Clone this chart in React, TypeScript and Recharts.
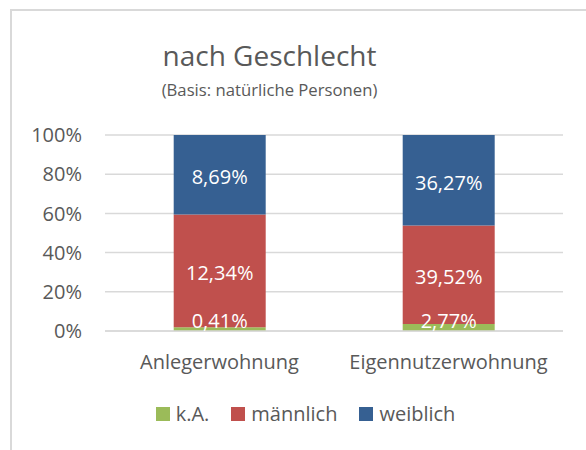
import React from 'react';
import { BarChart, Bar, XAxis, YAxis, CartesianGrid, LabelList, Legend } from 'recharts';

const categories = ['Anlegerwohnung', 'Eigennutzerwohnung'];
const kaValues = [0.41, 2.77];
const maleValues = [12.34, 39.52];
const femaleValues = [8.69, 36.27];
const yTicks = [0, 0.2, 0.4, 0.6, 0.8, 1];
const seriesNames = ['k.A.', 'männlich', 'weiblich'];
const seriesColors = ['#9BBB59', '#C0504D', '#366092'];

const data = categories.map((c, i) => ({ name: c, ka: kaValues[i], m: maleValues[i], w: femaleValues[i] }));

const FONT = '"Open Sans", sans-serif';
const GRAY = '#595959';

const fmt = (v: number) => v.toFixed(2).replace('.', ',') + '%';

const makeLabel = (values: number[]) => (props: any) => {
  const { x, y, width, height, index } = props;
  const cx = Number(x) + Number(width) / 2;
  let cy = Number(y) + Number(height) / 2 + 2;
  const bottom = Number(y) + Number(height);
  if (cy > bottom - 11) cy = bottom - 11;
  return (
    <text x={cx} y={cy} fill="#FFFFFF" textAnchor="middle" dominantBaseline="central"
      style={{ fontFamily: FONT, fontSize: 20 }}>
      {fmt(values[index])}
    </text>
  );
};

const LegendContent = () => (
  <div style={{ display: 'flex', justifyContent: 'center', alignItems: 'center', fontFamily: FONT, fontSize: 20, color: GRAY, lineHeight: '28px', height: 28 }}>
    {seriesNames.map((n, i) => (
      <div key={n} style={{ display: 'flex', alignItems: 'center', marginRight: i < 2 ? 22 : 0 }}>
        <span style={{ display: 'inline-block', width: 14, height: 14, background: seriesColors[i], marginRight: 6 }} />
        <span>{n}</span>
      </div>
    ))}
  </div>
);

export default function App() {
  return (
    <div style={{ position: 'absolute', left: 0, top: 0, width: 586, height: 450, overflow: 'hidden', background: '#fff' }}>
      <div style={{ position: 'absolute', left: 10, top: 9, width: 700, height: 600, borderLeft: '2px solid #D9D9D9', borderTop: '2px solid #D9D9D9' }} />
      <div style={{ position: 'absolute', left: 0, width: 539, top: 35, textAlign: 'center', fontFamily: FONT, fontSize: 28, color: GRAY, lineHeight: '40px', whiteSpace: 'nowrap' }}>
        nach Geschlecht
      </div>
      <div style={{ position: 'absolute', left: 0, width: 539, top: 79, textAlign: 'center', fontFamily: FONT, fontSize: 16.7, color: GRAY, lineHeight: '22px', whiteSpace: 'nowrap' }}>
        (Basis: natürliche Personen)
      </div>
      <div style={{ position: 'absolute', left: 0, top: 0 }}>
        <BarChart width={586} height={450} data={data} stackOffset="expand" barCategoryGap="30%"
          margin={{ top: 135, right: 23, bottom: 0, left: 0 }}>
          <CartesianGrid vertical={false} stroke="#D9D9D9" strokeWidth={1.5} />
          <XAxis dataKey="name" axisLine={{ stroke: '#D9D9D9', strokeWidth: 1.5 }} tickLine={false} tickSize={0} tickMargin={24}
            height={91} tick={{ fill: GRAY, fontFamily: FONT, fontSize: 20 }} />
          <YAxis domain={[0, 1]} ticks={yTicks} width={105} axisLine={false} tickLine={false} tickSize={0} tickMargin={23}
            tickFormatter={(v: number) => `${Math.round(v * 100)}%`} tick={{ fill: GRAY, fontFamily: FONT, fontSize: 20 }} />
          <Legend wrapperStyle={{ position: 'absolute', left: 0, width: 611, top: 400, height: 28 }} content={LegendContent} />
          <Bar dataKey="ka" stackId="a" fill={seriesColors[0]} isAnimationActive={false}>
            <LabelList dataKey="ka" content={makeLabel(kaValues)} />
          </Bar>
          <Bar dataKey="m" stackId="a" fill={seriesColors[1]} isAnimationActive={false}>
            <LabelList dataKey="m" content={makeLabel(maleValues)} />
          </Bar>
          <Bar dataKey="w" stackId="a" fill={seriesColors[2]} isAnimationActive={false}>
            <LabelList dataKey="w" content={makeLabel(femaleValues)} />
          </Bar>
        </BarChart>
      </div>
    </div>
  );
}
